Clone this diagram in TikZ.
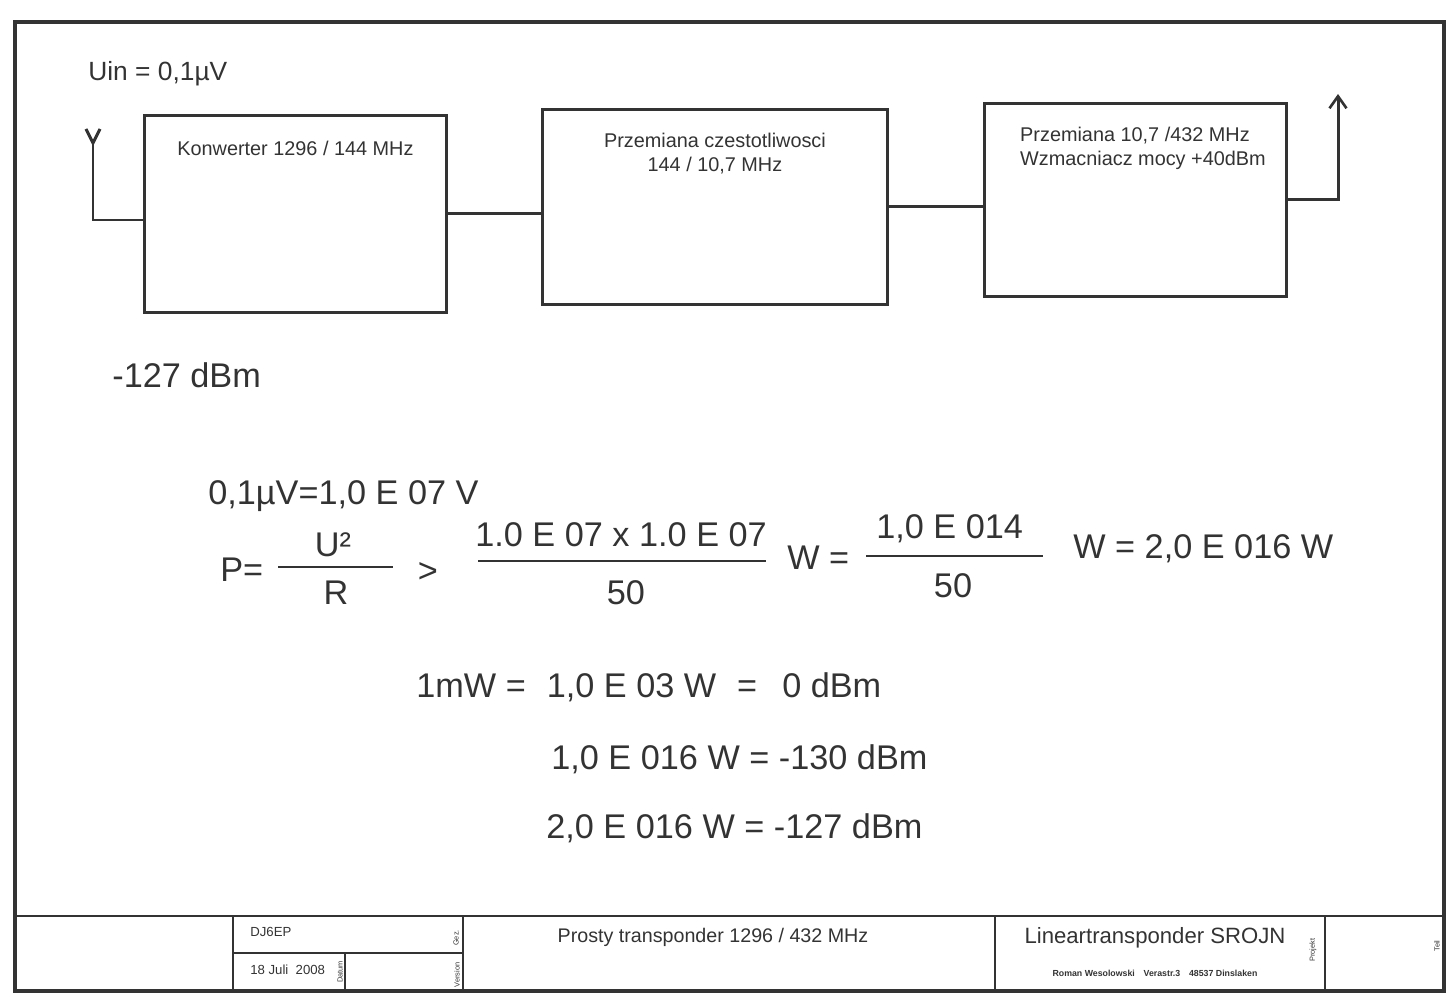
\documentclass[tikz,border=0pt]{standalone}
\usepackage{fontspec}
\setmainfont{Liberation Sans}
\usetikzlibrary{positioning,arrows.meta}
\colorlet{ink}{black!80}

\begin{document}
\begin{tikzpicture}[x=0.02cm,y=-0.02cm,>={Straight Barb[length=2.4mm,width=3.4mm,line width=1.5pt]},
			every node/.style={text=ink,inner sep=0pt},
			blok/.style={
				draw=ink,
				line width=1.7pt,
				anchor=north west
			},
			bloktxt/.style={
				font=\fontsize{11.3}{13.6}\selectfont,
				anchor=north
			},
			wzor/.style={
				font=\fontsize{19.5}{23}\selectfont,
				anchor=base west
			},
			wzorc/.style={
				font=\fontsize{19.5}{23}\selectfont,
				anchor=base
			},
			linia/.style={draw=ink,line width=1.7pt},
			kreska/.style={draw=ink,line width=0.6pt},
			ramka/.style={draw=ink,line width=2.2pt},
			pole/.style={draw=ink,line width=0.7pt},
			opis/.style={font=\fontsize{4.2}{5}\selectfont,rotate=90}
		]
		\useasboundingbox (0,0) rectangle (1455,1003);
		
		% rama rysunku
		\draw[ramka] (15,22) rectangle (1444,991);
		
		% bloki
		\node (konw)[blok,minimum width=6.04cm,minimum height=3.94cm] at (143,114){};
		
		\node (przem)[blok,minimum width=6.9cm,minimum height=3.9cm] at (541,108){};
		
		\node (wzm)[blok,minimum width=6.04cm,minimum height=3.86cm] at (983,102){};
		
		\node (t1)[bloktxt,below=0.54cm of konw.north]{Konwerter 1296 / 144 MHz};
		
		\node (t2)[bloktxt,align=center,below=0.5cm of przem.north]{Przemiana czestotliwosci\\144 / 10,7 MHz};
		
		\node (t3)[bloktxt,align=left,below=0.49cm of wzm.north,xshift=0.15cm]{Przemiana 10,7 /432 MHz\\Wzmacniacz mocy +40dBm};
		
		% antena i wyjscie
		\coordinate (ant) at (93,220);
		\coordinate (antg) at (93,143);
		\coordinate (antl) at (86,129);
		\coordinate (antp) at (100,129);
		\coordinate (wyj) at (1338,94);
		
		\draw[linia](antl)--(antg)--(antp);
		\draw[linia](antg)--(ant)--(ant -| konw.west);
		\draw[linia](konw.east)--(konw.east -| przem.west);
		\draw[linia](przem.east)--(przem.east -| wzm.west);
		\draw[linia,->](wzm.east)-|(wyj);
		
		% napisy
		\node (uin)[anchor=base west,font=\fontsize{15}{18}\selectfont] at (88,81){Uin = 0,1µV};
		
		\node (dbm)[wzor] at (112,388){-127 dBm};
		
		\node (uv)[wzor] at (208,505){0,1µV=1,0 E 07 V};
		
		\node (p)[wzor] at (220,582){P=};
		\node (u2)[wzorc] at (333,557){U²};
		\node (r)[wzorc] at (336,604){R};
		\node (wiekszy)[wzorc] at (428,583){>};
		\node (licz1)[wzor] at (475,547){1.0 E 07 x 1.0 E 07};
		\node (mian1)[wzorc] at (626,604){50};
		\node (w1)[wzor] at (787,570){W =};
		\node (licz2)[wzor] at (876,539){1,0 E 014};
		\node (mian2)[wzorc] at (953,598){50};
		\node (w2)[wzor] at (1073,559){W = 2,0 E 016 W};
		
		\draw[kreska] (278,567)--(393,567);
		\draw[kreska] (478,561)--(766,561);
		\draw[kreska] (866,556)--(1043,556);
		
		\node (mw)[wzor] at (416,698){1mW =\hspace{0.42cm}1,0 E 03 W\hspace{0.42cm}=\hspace{0.5cm}0 dBm};
		
		\node (m130)[wzor] at (551,769){1,0 E 016 W = -130 dBm};
		
		\node (m127)[wzor] at (546,838){2,0 E 016 W = -127 dBm};
		
		% tabliczka
		\draw[pole] (15,916)--(1444,916);
		\draw[pole] (233,916)--(233,991);
		\draw[pole] (463,916)--(463,991);
		\draw[pole] (995,916)--(995,991);
		\draw[pole] (1325,916)--(1325,991);
		\draw[pole] (233,953)--(463,953);
		\draw[pole] (345,953)--(345,991);
		
		\node (autor)[anchor=west,font=\fontsize{7.5}{9}\selectfont] at (250,932){DJ6EP};
		
		\node (data)[anchor=west,font=\fontsize{7.5}{9}\selectfont] at (250,970){18 Juli\ \ 2008};
		
		\node (tytul)[font=\fontsize{11.2}{13}\selectfont] at (713,937){Prosty transponder 1296 / 432 MHz};
		
		\node (projekt)[font=\fontsize{12.6}{15}\selectfont] at (1155,938){Lineartransponder SROJN};
		
		\node (adres)[font=\fontsize{5}{6}\selectfont\bfseries] at (1155,973){Roman Wesolowski\quad Verastr.3\quad 48537 Dinslaken};
		
		\node[opis] at (456,938){Gez.};
		\node[opis] at (457,975){Version};
		\node[opis] at (340,972){Datum};
		\node[opis] at (1313,950){Projekt};
		\node[opis] at (1437,946){Teil};
		
	\end{tikzpicture}
\end{document}
